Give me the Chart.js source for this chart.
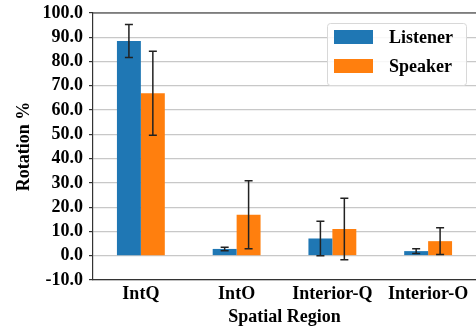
<!DOCTYPE html>
<html>
<head>
<meta charset="utf-8">
<script src="https://cdn.jsdelivr.net/npm/chart.js@4/dist/chart.umd.min.js"></script>
<style>
html,body{margin:0;padding:0;background:#fff;}
#wrap{width:476px;height:328px;position:relative;}
</style>
</head>
<body>
<div id="wrap"><canvas id="c" width="476" height="328"></canvas></div>
<script>
const categories = ["IntQ", "IntO", "Interior-Q", "Interior-O"];
const listenerValues = [88.5, 2.8, 7.1, 1.9];
const listenerErrors = [6.8, 0.7, 7.1, 1.0];
const speakerValues = [66.9, 16.9, 11.0, 6.0];
const speakerErrors = [17.3, 14.0, 12.7, 5.5];
const yTicks = [-10, 0, 10, 20, 30, 40, 50, 60, 70, 80, 90, 100];
const xTitle = "Spatial Region";
const yTitle = "Rotation %";

const FONT = "'Liberation Serif', 'Times New Roman', serif";

const errorBarPlugin = {
  id: 'errorBars',
  afterDatasetsDraw(chart) {
    const ctx = chart.ctx;
    const yScale = chart.scales.y;
    chart.data.datasets.forEach((ds, i) => {
      const meta = chart.getDatasetMeta(i);
      meta.data.forEach((el, j) => {
        const v = ds.data[j], e = ds.errors[j];
        const yTop = yScale.getPixelForValue(v + e);
        const yBot = yScale.getPixelForValue(v - e);
        const x = el.x;
        ctx.save();
        ctx.strokeStyle = '#222';
        ctx.lineWidth = 1.5;
        ctx.beginPath();
        ctx.moveTo(x, yTop); ctx.lineTo(x, yBot);
        ctx.moveTo(x - 4, yTop); ctx.lineTo(x + 4, yTop);
        ctx.moveTo(x - 4, yBot); ctx.lineTo(x + 4, yBot);
        ctx.stroke();
        ctx.restore();
      });
    });
  }
};

const spinePlugin = {
  id: 'spines',
  afterDraw(chart) {
    const {ctx, chartArea: a} = chart;
    ctx.save();
    ctx.strokeStyle = '#333';
    ctx.lineWidth = 1.2;
    ctx.beginPath();
    ctx.moveTo(a.left, a.top); ctx.lineTo(a.right, a.top);
    ctx.stroke();
    ctx.restore();
  }
};

const legendPlugin = {
  id: 'customLegend',
  afterDraw(chart) {
    const {ctx, chartArea: a} = chart;
    const w = 139, h = 62;
    const x0 = a.right - 10 - w, y0 = a.top + 10;
    ctx.save();
    ctx.fillStyle = 'rgba(255,255,255,0.85)';
    ctx.strokeStyle = '#d8d8d8';
    ctx.lineWidth = 1;
    ctx.beginPath();
    if (ctx.roundRect) ctx.roundRect(x0 + 0.5, y0 + 0.5, w, h, 3); else ctx.rect(x0 + 0.5, y0 + 0.5, w, h);
    ctx.fill(); ctx.stroke();
    ctx.font = "bold 18px " + FONT;
    ctx.textBaseline = 'middle';
    ctx.fillStyle = '#000';
    chart.data.datasets.forEach((ds, i) => {
      const cy = y0 + 14 + i * 29;
      ctx.fillStyle = ds.backgroundColor;
      ctx.fillRect(x0 + 7, cy - 7, 39, 14);
      ctx.fillStyle = '#000';
      ctx.fillText(ds.label, x0 + 62, cy + 1);
    });
    ctx.restore();
  }
};

new Chart(document.getElementById('c'), {
  type: 'bar',
  data: {
    labels: categories,
    datasets: [
      { label: 'Listener', data: listenerValues, errors: listenerErrors, backgroundColor: '#1f77b4',
        categoryPercentage: 0.5, barPercentage: 1.0 },
      { label: 'Speaker', data: speakerValues, errors: speakerErrors, backgroundColor: '#ff7f0e',
        categoryPercentage: 0.5, barPercentage: 1.0 }
    ]
  },
  options: {
    responsive: false,
    animation: false,
    devicePixelRatio: 1,
    layout: { padding: { top: 13, right: 0, left: 0, bottom: 0 } },
    plugins: { legend: { display: false }, tooltip: { enabled: false } },
    scales: {
      x: {
        grid: { display: false, drawTicks: true, tickLength: 4 },
        border: { color: '#333', width: 1.2 },
        ticks: { color: '#000', padding: 0, font: { family: FONT, size: 18, weight: 'bold' } },
        title: { display: true, text: xTitle, color: '#000', padding: { top: 0, bottom: 0 },
                 font: { family: FONT, size: 18, weight: 'bold' } },
        afterFit(s) { s.height = 48; s.paddingLeft = 0; s.paddingRight = 0; }
      },
      y: {
        min: -10, max: 100,
        afterBuildTicks(s) { s.ticks = yTicks.map(v => ({ value: v })); },
        grid: { color: '#c8c8c8', lineWidth: 1.2, tickLength: 4, tickColor: '#333' },
        border: { color: '#333', width: 1.2 },
        ticks: { color: '#000', padding: 6, autoSkip: false, font: { family: FONT, size: 18, weight: 'bold' },
                 callback: v => Number(v).toFixed(1) },
        title: { display: true, text: yTitle, color: '#000', padding: { top: 14, bottom: 0 },
                 font: { family: FONT, size: 18, weight: 'bold' } },
        afterFit(s) { s.width = 93; s.paddingTop = 0; s.paddingBottom = 0; }
      }
    }
  },
  plugins: [errorBarPlugin, spinePlugin, legendPlugin]
});
</script>
</body>
</html>
